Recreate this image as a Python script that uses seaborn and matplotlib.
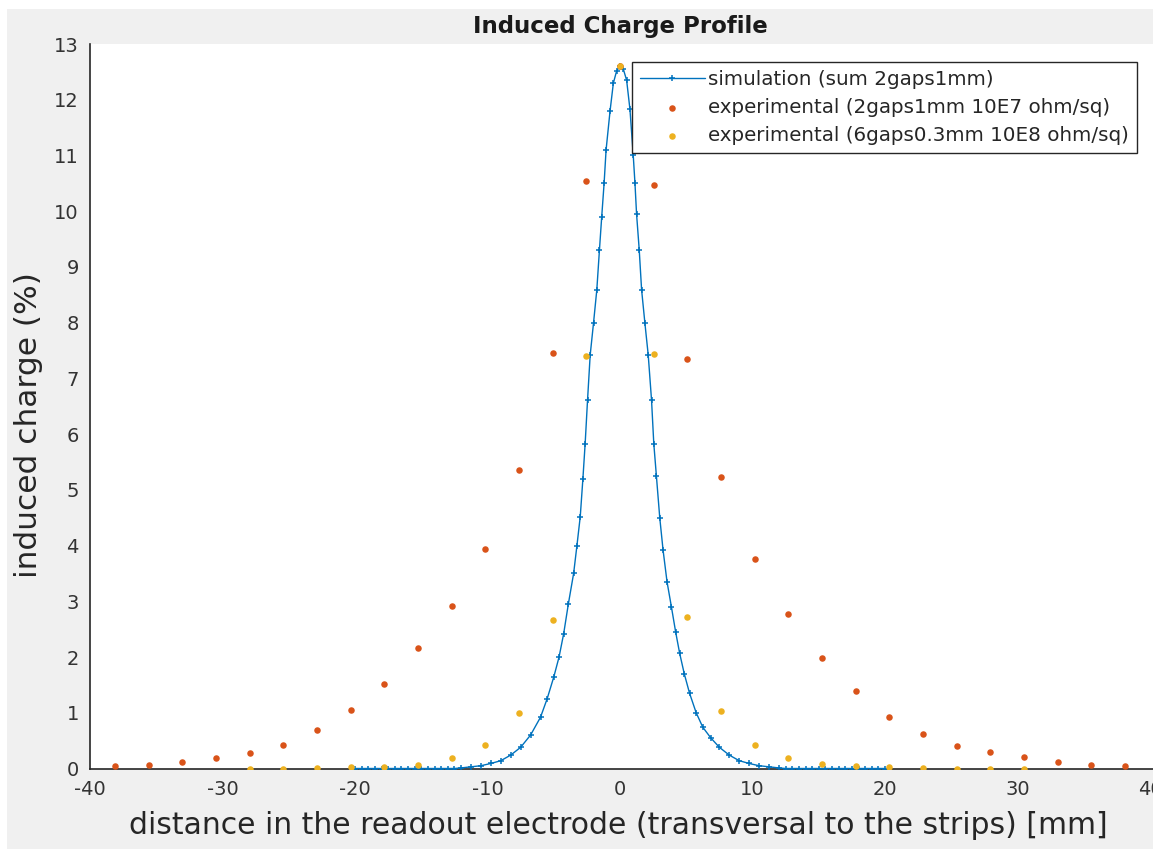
import matplotlib
matplotlib.use("Agg")
import matplotlib.pyplot as plt
from matplotlib.patches import Rectangle
import seaborn as sns

# Simulated induced charge (sum of 2 gaps, 1 mm) across the readout plane
sim_x = [-20, -19.5, -19, -18.5, -18, -17.5, -17, -16.5, -16, -15.5, -15, -14.5,
         -14, -13.5, -13, -12.5, -12, -11.25, -10.5, -9.75, -9.0, -8.25, -7.5,
         -6.75, -6.0, -5.5, -5.0, -4.6, -4.25, -3.9, -3.5, -3.25, -3.0, -2.8,
         -2.63, -2.45, -2.25, -2.0, -1.75, -1.55, -1.38, -1.2, -1.05, -0.75,
         -0.5, -0.25, 0, 0.25, 0.5, 0.75, 1.0, 1.13, 1.25, 1.45, 1.63, 1.88,
         2.13, 2.38, 2.55, 2.75, 3.0, 3.25, 3.55, 3.88, 4.2, 4.5, 4.85, 5.25,
         5.75, 6.25, 6.85, 7.5, 8.25, 9.0, 9.75, 10.5, 11.25, 12, 12.5, 13,
         13.5, 14, 14.5, 15, 15.5, 16, 16.5, 17, 17.5, 18, 18.5, 19, 19.5, 20]
sim_y = [0, 0, 0, 0, 0, 0, 0, 0, 0, 0, 0, 0,
         0, 0, 0, 0, 0.01, 0.03, 0.05, 0.09, 0.14, 0.24, 0.38,
         0.6, 0.92, 1.25, 1.64, 2.0, 2.42, 2.95, 3.5, 4.0, 4.52, 5.2,
         5.83, 6.61, 7.42, 7.99, 8.59, 9.31, 9.9, 10.5, 11.1, 11.8,
         12.3, 12.52, 12.6, 12.55, 12.35, 11.83, 11.0, 10.5, 9.95, 9.31, 8.59, 7.99,
         7.42, 6.61, 5.83, 5.24, 4.5, 3.92, 3.35, 2.9, 2.45, 2.07, 1.7, 1.35,
         1.0, 0.74, 0.55, 0.38, 0.24, 0.14, 0.09, 0.05, 0.03, 0.01, 0, 0,
         0, 0, 0, 0, 0, 0, 0, 0, 0, 0, 0, 0, 0, 0]

# Measured profiles, one value per strip (2.54 mm pitch)
exp1_x = [-38.1, -35.56, -33.02, -30.48, -27.94, -25.4, -22.86, -20.32, -17.78,
          -15.24, -12.7, -10.16, -7.62, -5.08, -2.54, 0, 2.54, 5.08, 7.62, 10.16,
          12.7, 15.24, 17.78, 20.32, 22.86, 25.4, 27.94, 30.48, 33.02, 35.56, 38.1]
exp1_y = [0.04, 0.07, 0.11, 0.18, 0.27, 0.43, 0.69, 1.05, 1.52,
          2.16, 2.92, 3.94, 5.36, 7.46, 10.55, 12.6, 10.47, 7.35, 5.23, 3.76,
          2.77, 1.98, 1.39, 0.92, 0.62, 0.40, 0.29, 0.20, 0.11, 0.07, 0.04]

exp2_x = [-27.94, -25.4, -22.86, -20.32, -17.78, -15.24, -12.7, -10.16, -7.62,
          -5.08, -2.54, 0, 2.54, 5.08, 7.62, 10.16, 12.7, 15.24, 17.78, 20.32,
          22.86, 25.4, 27.94, 30.48]
exp2_y = [0.0, 0.0, 0.01, 0.02, 0.03, 0.07, 0.18, 0.42, 1.0,
          2.66, 7.41, 12.6, 7.43, 2.72, 1.03, 0.43, 0.19, 0.08, 0.04, 0.02,
          0.01, 0.0, 0.0, 0.0]

x_ticks = [-40, -30, -20, -10, 0, 10, 20, 30, 40]
y_ticks = list(range(0, 14))

C_BLUE = "#0072BD"
C_RED = "#D95319"
C_YELLOW = "#EDB120"
INK = "#262626"

sns.set_style("white")
plt.rcParams["font.family"] = ["DejaVu Sans"]
plt.rcParams["axes.unicode_minus"] = False

W, H = 1153, 849
fig = plt.figure(figsize=(W / 100, H / 100), dpi=100, facecolor="white")
# grey figure panel inside a thin white margin, kept behind the axes
fig.patches.append(Rectangle((7 / W, 0), 1 - 7 / W, 1 - 9 / H,
                             transform=fig.transFigure, facecolor="#f0f0f0",
                             edgecolor="none", zorder=-10))

left, right = 90 / W, 1150 / W
bottom, top = (H - 768.5) / H, (H - 44) / H
ax = fig.add_axes([left, bottom, 1 - left, top - bottom])
ax.set_zorder(1)
ax.set_facecolor("white")

sns.lineplot(x=sim_x, y=sim_y, ax=ax, sort=False, estimator=None,
             color=C_BLUE, linewidth=1.0, marker="+", markersize=4.5,
             markeredgewidth=1.1, markeredgecolor=C_BLUE,
             label="simulation (sum 2gaps1mm)", zorder=3)
sns.scatterplot(x=exp1_x, y=exp1_y, ax=ax, color=C_RED, s=22, linewidth=0,
                label="experimental (2gaps1mm 10E7 ohm/sq)", zorder=4)
sns.scatterplot(x=exp2_x, y=exp2_y, ax=ax, color=C_YELLOW, s=22, linewidth=0,
                label="experimental (6gaps0.3mm 10E8 ohm/sq)", zorder=5)

# x range spans the axes up to the right edge of the figure
x_right = -40 + 80 * (1 - left) / (right - left)
ax.set_xlim(-40, x_right)
ax.set_ylim(0, 13)
ax.set_xticks(x_ticks)
ax.set_yticks(y_ticks)
ax.tick_params(axis="both", direction="in", length=10, width=1.1,
               colors=INK, labelsize=14, labelcolor="#333333", pad=8)

for side in ("top", "right"):
    ax.spines[side].set_visible(False)
for side in ("left", "bottom"):
    ax.spines[side].set_color(INK)
    ax.spines[side].set_linewidth(1.2)

ax.set_title("Induced Charge Profile", fontsize=16.5, fontweight="bold",
             color="#1a1a1a", pad=8, x=(620 - 90) / (W - 90))
ax.set_xlabel("distance in the readout electrode (transversal to the strips) [mm]",
              fontsize=21.5, color=INK, labelpad=6)
ax.xaxis.set_label_coords((618 - 90) / (W - 90), -0.058)
ax.set_ylabel("induced charge (%)", fontsize=22.5, color=INK)
ax.yaxis.set_label_coords(-0.044, 0.474)

leg = ax.legend(loc="upper right", bbox_to_anchor=((1137 - 90) / (W - 90), 0.975),
                borderaxespad=0, fontsize=14.3, frameon=True, fancybox=False,
                handlelength=3.3, handletextpad=0.15, borderpad=0.4,
                labelspacing=0.45, markerscale=1.0)
leg.get_frame().set_edgecolor(INK)
leg.get_frame().set_linewidth(1.0)
leg.get_frame().set_alpha(1)
for t in leg.get_texts():
    t.set_color(INK)

fig.savefig("out.png", dpi=100, facecolor=fig.get_facecolor())
